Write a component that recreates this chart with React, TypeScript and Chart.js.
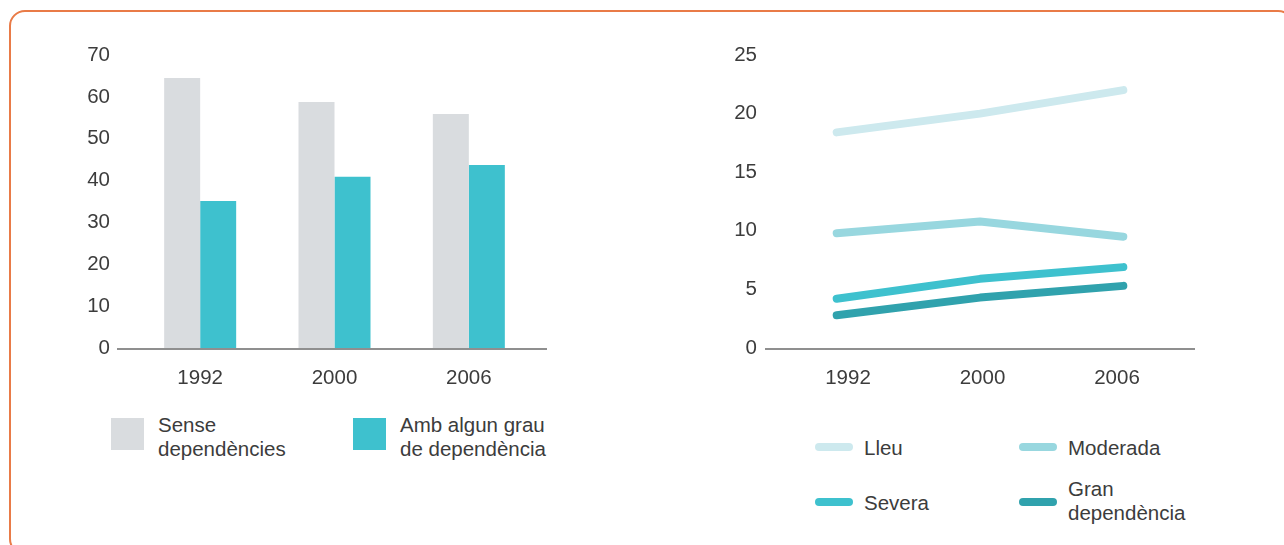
import React, { useEffect, useRef } from "react";
import { Chart, registerables } from "chart.js";

Chart.register(...registerables);

// ---------- data ----------
const years = ["1992", "2000", "2006"];
const senseDependencies = [64.5, 58.8, 55.9];
const ambDependencia = [35.1, 40.9, 43.7];
const barTickMax = 70;
const barTickStep = 10;

const lleu = [18.4, 20.0, 22.0];
const moderada = [9.8, 10.8, 9.5];
const severa = [4.2, 5.9, 6.9];
const granDependencia = [2.8, 4.3, 5.3];
const lineTickMax = 25;
const lineTickStep = 5;

// ---------- styles ----------
const FONT = "'Liberation Sans', Arial, Helvetica, sans-serif";
const TEXT = "#3c3c3c";
const GRAY = "#D9DCDF";
const TEAL = "#3EC1CE";
const C_LLEU = "#CDE9EE";
const C_MOD = "#98D7DF";
const C_SEV = "#3EC1CE";
const C_GRAN = "#30A2AD";
const FS = 20.5;

const makeBaseline = (extLeft: number, extRight: number, before: boolean) => {
  const draw = (chart: any) => {
    const { ctx, chartArea } = chart;
    const y = Math.round(chart.scales.y.getPixelForValue(0)) + 1;
    ctx.save();
    ctx.strokeStyle = "#6a6a6a";
    ctx.lineWidth = 1.5;
    ctx.beginPath();
    ctx.moveTo(chartArea.left - extLeft, y);
    ctx.lineTo(chartArea.right + extRight, y);
    ctx.stroke();
    ctx.restore();
  };
  return before
    ? { id: "baselineB", beforeDatasetsDraw: draw }
    : { id: "baselineA", beforeDatasetsDraw: draw };
};

function BarChart() {
  const ref = useRef<HTMLCanvasElement>(null);
  useEffect(() => {
    const chart = new Chart(ref.current!, {
      type: "bar",
      data: {
        labels: years,
        datasets: [
          { label: "Sense dependències", data: senseDependencies, backgroundColor: GRAY },
          { label: "Amb algun grau de dependència", data: ambDependencia, backgroundColor: TEAL },
        ],
      },
      options: {
        responsive: false,
        maintainAspectRatio: false,
        animation: false,
        devicePixelRatio: 1,
        layout: { padding: { top: 55, right: 104, left: 0, bottom: 0 } },
        plugins: { legend: { display: false }, tooltip: { enabled: false } },
        datasets: { bar: { categoryPercentage: 0.536, barPercentage: 1 } } as any,
        scales: {
          x: {
            grid: { display: false, drawTicks: false },
            border: { display: false },
            ticks: { color: TEXT, font: { family: FONT, size: FS }, padding: 18 },
            afterFit: (s: any) => { s.height = 62; },
          },
          y: {
            min: 0,
            max: barTickMax,
            grid: { display: false, drawTicks: false },
            border: { display: false },
            ticks: { stepSize: barTickStep, color: TEXT, font: { family: FONT, size: FS }, padding: 23 },
            afterFit: (s: any) => { s.width = 133; },
          },
        },
      },
      plugins: [makeBaseline(16, 11, true)],
    });
    return () => chart.destroy();
  }, []);
  return (
    <canvas
      ref={ref}
      width={640}
      height={410}
      style={{ position: "absolute", left: 0, top: 0, width: 640, height: 410 }}
    />
  );
}

function LineChart() {
  const ref = useRef<HTMLCanvasElement>(null);
  useEffect(() => {
    const mk = (label: string, data: number[], color: string) => ({
      label,
      data,
      borderColor: color,
      backgroundColor: color,
      borderWidth: 8,
      borderCapStyle: "round" as const,
      borderJoinStyle: "round" as const,
      pointRadius: 0,
      tension: 0,
      fill: false,
    });
    const chart = new Chart(ref.current!, {
      type: "line",
      data: {
        labels: years,
        datasets: [
          mk("Lleu", lleu, C_LLEU),
          mk("Moderada", moderada, C_MOD),
          mk("Severa", severa, C_SEV),
          mk("Gran dependència", granDependencia, C_GRAN),
        ],
      },
      options: {
        responsive: false,
        maintainAspectRatio: false,
        animation: false,
        devicePixelRatio: 1,
        layout: { padding: { top: 55, right: 89, left: 0, bottom: 0 } },
        plugins: { legend: { display: false }, tooltip: { enabled: false } },
        scales: {
          x: {
            type: "category",
            offset: true,
            display: false,
          },
          xl: {
            type: "linear",
            position: "bottom",
            min: -0.617,
            max: 2.58,
            grid: { display: false, drawTicks: false },
            border: { display: false },
            afterBuildTicks: (s: any) => {
              s.ticks = years.map((_, i) => ({ value: i }));
            },
            ticks: {
              color: TEXT,
              font: { family: FONT, size: FS },
              padding: 18,
              callback: (v: any) => years[Math.round(Number(v))] ?? "",
            },
            afterFit: (s: any) => { s.height = 62; },
          } as any,
          y: {
            min: 0,
            max: lineTickMax,
            grid: { display: false, drawTicks: false },
            border: { display: false },
            ticks: { stepSize: lineTickStep, color: TEXT, font: { family: FONT, size: FS }, padding: 8 },
            afterFit: (s: any) => { s.width = 125; },
          },
        },
      },
      plugins: [makeBaseline(0, 0, false)],
    });
    return () => chart.destroy();
  }, []);
  return (
    <canvas
      ref={ref}
      width={644}
      height={410}
      style={{ position: "absolute", left: 640, top: 0, width: 644, height: 410 }}
    />
  );
}

const textStyle = (left: number, top: number): React.CSSProperties => ({
  position: "absolute",
  left,
  top,
  fontFamily: FONT,
  fontSize: FS,
  lineHeight: "24px",
  color: TEXT,
  whiteSpace: "nowrap",
});

const swatch = (left: number, top: number, w: number, h: number, color: string, radius = 0): React.CSSProperties => ({
  position: "absolute",
  left,
  top,
  width: w,
  height: h,
  background: color,
  borderRadius: radius,
});

export default function App() {
  return (
    <div
      style={{
        position: "absolute",
        left: 0,
        top: 0,
        width: 1284,
        height: 545,
        overflow: "hidden",
        background: "#fff",
      }}
    >
      <div
        style={{
          position: "absolute",
          left: 9,
          top: 10,
          width: 1285,
          height: 545,
          boxSizing: "border-box",
          border: "2px solid #E97B47",
          borderRadius: 16,
        }}
      />
      <BarChart />
      <LineChart />

      {/* left legend */}
      <div style={swatch(111, 418, 33, 32, GRAY)} />
      <div style={textStyle(158, 413)}>
        Sense
        <br />
        dependències
      </div>
      <div style={swatch(353, 418, 33, 32, TEAL)} />
      <div style={textStyle(400, 413)}>
        Amb algun grau
        <br />
        de dependència
      </div>

      {/* right legend */}
      <div style={swatch(815, 443, 38, 8, C_LLEU, 4)} />
      <div style={textStyle(864, 436)}>Lleu</div>
      <div style={swatch(1019, 443, 38, 8, C_MOD, 4)} />
      <div style={textStyle(1068, 436)}>Moderada</div>
      <div style={swatch(815, 498, 38, 8, C_SEV, 4)} />
      <div style={textStyle(864, 491)}>Severa</div>
      <div style={swatch(1019, 498, 38, 8, C_GRAN, 4)} />
      <div style={textStyle(1068, 477)}>
        Gran
        <br />
        dependència
      </div>
    </div>
  );
}
